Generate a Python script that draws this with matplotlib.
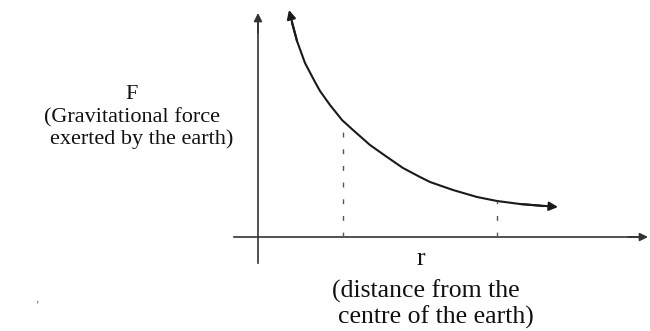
import matplotlib
matplotlib.use("Agg")
import matplotlib.pyplot as plt

# curve (origin at the axes crossing, units ~ pixels)
r_vals = [31, 34, 39, 47, 57, 62, 72, 84, 95, 112, 129, 145, 162, 172,
          195, 219, 239, 262, 285, 300]
F_vals = [227, 214, 196, 174, 155, 146, 132, 117, 107, 92, 80, 69, 60, 55,
          47, 40, 36, 33, 31, 30]

# two sample distances marked with dashed drop lines
r_marks = [85, 239]
F_marks = [116, 36]

y_lines = ["F", "(Gravitational force", "exerted by the earth)"]
x_lines = ["r", "(distance from the", "centre of the earth)"]

plt.rcParams['font.family'] = ['Liberation Serif', 'DejaVu Serif']

fig = plt.figure(figsize=(6.5, 3.31), dpi=100)
ax = fig.add_axes([0, 0, 1, 1])
ax.set_xlim(-258, 392)
ax.set_ylim(-94, 237)
ax.axis('off')

ink = '#1a1a1a'
axis_col = '#333333'

# axes with arrow heads
ax.plot([-24, 386], [0, 0], color=axis_col, lw=1.2)
ax.plot([0, 0], [-26, 220], color=axis_col, lw=1.2)
ax.annotate('', xy=(390, 0), xytext=(370, 0),
            arrowprops=dict(arrowstyle='-|>', color=axis_col, lw=1.2,
                            mutation_scale=12, shrinkA=0, shrinkB=0))
ax.annotate('', xy=(0, 224), xytext=(0, 204),
            arrowprops=dict(arrowstyle='-|>', color=axis_col, lw=1.2,
                            mutation_scale=12, shrinkA=0, shrinkB=0))

# curve
ax.plot(r_vals[1:-1], F_vals[1:-1], color=ink, lw=1.5, solid_joinstyle='round')
ax.annotate('', xy=(r_vals[0], F_vals[0]), xytext=(r_vals[2], F_vals[2]),
            arrowprops=dict(arrowstyle='-|>', color=ink, lw=1.5,
                            mutation_scale=13, shrinkA=0, shrinkB=0))
ax.annotate('', xy=(r_vals[-1], F_vals[-1]), xytext=(r_vals[-3], F_vals[-3]),
            arrowprops=dict(arrowstyle='-|>', color=ink, lw=1.5,
                            mutation_scale=13, shrinkA=0, shrinkB=0))

# dashed drop lines
for rm, fm in zip(r_marks, F_marks):
    ax.plot([rm, rm], [0, fm], color='#555555', lw=1.0, ls=(0, (3.5, 8.5)))

# labels, one line at a time
for txt, x, y in zip(y_lines, [-126, -126, -116.5], [138, 115, 93]):
    ax.text(x, y, txt, ha='center', va='baseline', fontsize=16, color='#111111')
for txt, x, y in zip(x_lines, [163, 168, 178], [-28, -61, -87]):
    ax.text(x, y, txt, ha='center', va='baseline', fontsize=18.5, color='#111111')

ax.text(-221, -62, ',', ha='center', va='center', fontsize=9, color='#777777')

fig.savefig('out.png', dpi=100)
